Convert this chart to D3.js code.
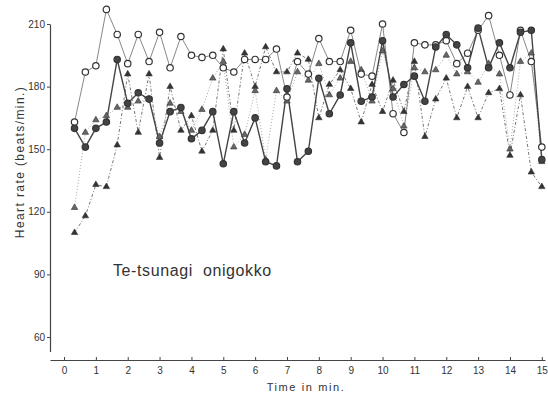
<!DOCTYPE html>
<html>
<head>
<meta charset="utf-8">
<script src="https://cdn.jsdelivr.net/npm/d3@7"></script>
<style>
  body { margin: 0; background: #fff; }
  .tick text { font-family: "Liberation Sans Narrow", "Liberation Sans", Arial, sans-serif; font-size: 10px; fill: #333; }
  .label { font-family: "Liberation Sans", Arial, sans-serif; fill: #333; }
</style>
</head>
<body>
<div id="chart"></div>
<script>
const width = 548;
const height = 399;

// time of each reading (min), one every 20 s
const times = [0.33, 0.67, 1, 1.33, 1.67, 2, 2.33, 2.67, 3, 3.33, 3.67, 4, 4.33, 4.67, 5,
  5.33, 5.67, 6, 6.33, 6.67, 7, 7.33, 7.67, 8, 8.33, 8.67, 9, 9.33, 9.67, 10,
  10.33, 10.67, 11, 11.33, 11.67, 12, 12.33, 12.67, 13, 13.33, 13.67, 14, 14.33, 14.67, 15];

const openCircle = [163, 187, 190, 217, 205, 191, 205, 192, 206, 189, 204, 195, 194, 195, 189,
  187, 193, 193, 193, 198, 175, 192, 186, 203, 192, 192, 207, 186, 185, 210,
  167, 158, 201, 200, 200, 202, 191, 196, 207, 214, 195, 176, 207, 192, 151];

const filledCircle = [160, 151, 160, 163, 193, 172, 177, 174, 153, 168, 170, 155, 159, 168, 143,
  168, 153, 165, 144, 142, 179, 144, 149, 184, 167, 176, 201, 173, 175, 202,
  175, 181, 185, 173, 199, 205, 200, 189, 208, 189, 201, 189, 206, 207, 145];

const filledTriangle = [110, 118, 133, 132, 152, 186, 158, 186, 146, 180, 159, 166, 149, 159, 198,
  159, 196, 180, 199, 187, 187, 196, 193, 165, 181, 188, 179, 163, 181, 168,
  183, 168, 192, 156, 174, 184, 165, 180, 165, 177, 179, 147, 176, 139, 132];

const openTriangle = [122, 158, 164, 166, 170, 170, 173, 174, 156, 172, 168, 159, 169, 184, 192,
  151, 157, 178, 145, 178, 173, 187, 183, 191, 176, 184, 192, 188, 173, 197,
  179, 161, 189, 187, 188, 195, 186, 187, 182, 191, 186, 150, 192, 196, 144];

const yTicks = [60, 90, 120, 150, 180, 210];
const xTicks = [0, 1, 2, 3, 4, 5, 6, 7, 8, 9, 10, 11, 12, 13, 14, 15];

const svg = d3.select("#chart")
    .append("svg")
    .attr("width", width)
    .attr("height", height);

const x = d3.scaleLinear().domain([-0.44, 15.1]).range([50, 545]);
const y = d3.scaleLinear().domain([53, 210]).range([351.6, 24]);

// axes
svg.append("g")
    .attr("transform", "translate(50,0)")
    .call(d3.axisLeft(y).tickValues(yTicks).tickSize(3).tickPadding(2).tickSizeOuter(0));

svg.append("g")
    .attr("transform", "translate(0,360)")
    .call(d3.axisBottom(x).tickValues(xTicks).tickSizeInner(-3).tickSizeOuter(0).tickPadding(7));

svg.selectAll(".domain").attr("stroke", "#444").attr("stroke-width", 1.2);
svg.selectAll(".tick line").attr("stroke", "#444");

// series
const series = [
    { values: filledTriangle, stroke: "#777", width: 1, dash: "3,2,1,2", symbol: "tri", fill: "#333", mstroke: "#333" },
    { values: openTriangle, stroke: "#aaa", width: 1, dash: "1,2", symbol: "tri", fill: "#666", mstroke: "#333" },
    { values: openCircle, stroke: "#888", width: 1, dash: null, symbol: "circle", fill: "#fff", mstroke: "#333" },
    { values: filledCircle, stroke: "#444", width: 1.4, dash: null, symbol: "circle", fill: "#444", mstroke: "#333" }
];

const line = d3.line()
    .x((d, i) => x(times[i]))
    .y(d => y(d));

series.forEach(s => {
    svg.append("path")
        .datum(s.values)
        .attr("fill", "none")
        .attr("stroke", s.stroke)
        .attr("stroke-width", s.width)
        .attr("stroke-dasharray", s.dash)
        .attr("d", line);
});

series.forEach(s => {
    const g = svg.append("g");
    if (s.symbol === "circle") {
        g.selectAll("circle")
            .data(s.values)
            .join("circle")
            .attr("cx", (d, i) => x(times[i]))
            .attr("cy", d => y(d))
            .attr("r", 3.2)
            .attr("fill", s.fill)
            .attr("stroke", s.mstroke)
            .attr("stroke-width", 1.2);
    } else {
        const tri = d3.symbol().type(d3.symbolTriangle).size(18);
        g.selectAll("path")
            .data(s.values)
            .join("path")
            .attr("d", tri)
            .attr("transform", (d, i) => `translate(${x(times[i])},${y(d)})`)
            .attr("fill", s.fill)
            .attr("stroke", s.mstroke)
            .attr("stroke-width", 0.6);
    }
});

// labels
svg.append("text")
    .attr("class", "label")
    .attr("transform", "translate(24,162) rotate(-90)")
    .attr("text-anchor", "middle")
    .attr("font-size", 12)
    .attr("letter-spacing", 1.4)
    .text("Heart rate (beats/min.)");

svg.append("text")
    .attr("class", "label")
    .attr("x", 306)
    .attr("y", 391)
    .attr("text-anchor", "middle")
    .attr("font-size", 11)
    .attr("letter-spacing", 1.6)
    .text("Time in min.");

svg.append("text")
    .attr("class", "label")
    .attr("x", 113)
    .attr("y", 276)
    .attr("font-size", 16)
    .attr("letter-spacing", 0.6)
    .style("white-space", "pre")
    .text("Te-tsunagi  onigokko");
</script>
</body>
</html>
